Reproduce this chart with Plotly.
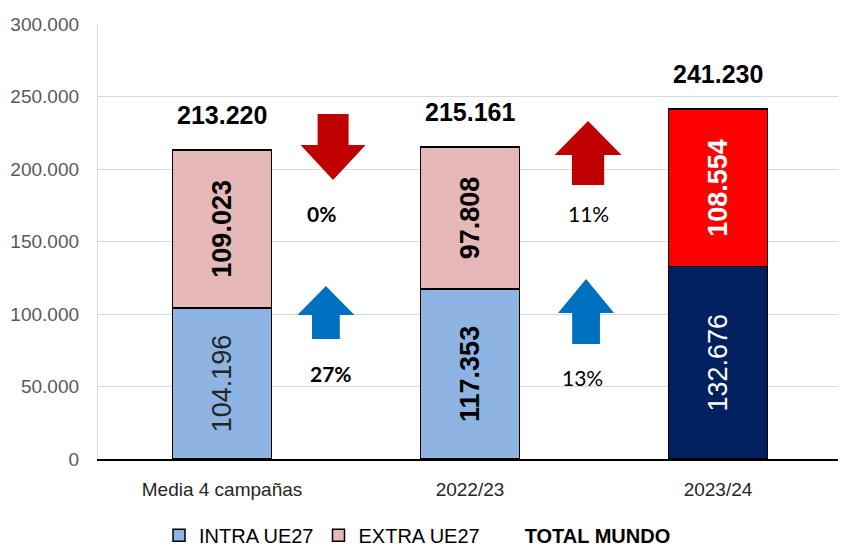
import plotly.graph_objects as go

categories = ["Media 4 campañas", "2022/23", "2023/24"]
intra_ue27 = [104196, 117353, 132676]
extra_ue27 = [109023, 97808, 108554]
totals = [213220, 215161, 241230]
y_ticks = [0, 50000, 100000, 150000, 200000, 250000, 300000]

intra_colors = ["#8EB4E3", "#8EB4E3", "#002060"]
extra_colors = ["#E6B9B8", "#E6B9B8", "#FF0000"]
intra_font = ["#262626", "#000000", "#FFFFFF"]
extra_font = ["#000000", "#000000", "#FFFFFF"]
intra_bold = [False, True, False]
extra_bold = [True, True, True]

SANS = "Liberation Sans, Arial"


def fmt(v):
    return f"{v:,}".replace(",", ".")


def lab(v, b):
    s = fmt(v)
    return f"<b>{s}</b>" if b else s


xs = list(range(len(categories)))

fig = go.Figure()
fig.add_trace(go.Bar(
    x=xs, y=intra_ue27, name="INTRA UE27", width=0.4,
    marker=dict(color=intra_colors, line=dict(color="#000000", width=1.5)),
    text=[lab(v, b) for v, b in zip(intra_ue27, intra_bold)],
    textposition="inside", textangle=-90, insidetextanchor="middle",
    textfont=dict(family=SANS, size=27, color=intra_font),
    hoverinfo="skip",
))
fig.add_trace(go.Bar(
    x=xs, y=extra_ue27, name="EXTRA UE27", width=0.4,
    marker=dict(color=extra_colors, line=dict(color="#000000", width=1.5)),
    text=[lab(v, b) for v, b in zip(extra_ue27, extra_bold)],
    textposition="inside", textangle=-90, insidetextanchor="middle",
    textfont=dict(family=SANS, size=27, color=extra_font),
    hoverinfo="skip",
))
fig.add_trace(go.Scatter(
    x=[None], y=[None], mode="lines", line=dict(width=0, color="rgba(0,0,0,0)"),
    name="<b>TOTAL MUNDO</b>",
))

# total labels
for x, t in zip(xs, totals):
    fig.add_annotation(x=x, y=t, text=f"<b>{fmt(t)}</b>", showarrow=False,
                       yshift=35, yanchor="middle",
                       font=dict(family=SANS, size=25, color="#000000"))

# change arrows (decorations) with labels computed from the data
changes = [
    dict(x=0.448, now=extra_ue27[2], base=extra_ue27[0], color="#C00000",
         top=237931, head=216552, tip=192414, hw=0.131, sw=0.0625,
         lx=0.40, ly=169655, bold=True),
    dict(x=0.419, now=intra_ue27[2], base=intra_ue27[0], color="#0070C0",
         top=82759, head=99310, tip=119310, hw=0.115, sw=0.056,
         lx=0.44, ly=59310, bold=True),
    dict(x=1.476, now=extra_ue27[2], base=extra_ue27[1], color="#C00000",
         top=188966, head=209655, tip=233103, hw=0.135, sw=0.065,
         lx=1.476, ly=169655, bold=False),
    dict(x=1.468, now=intra_ue27[2], base=intra_ue27[1], color="#0070C0",
         top=79310, head=100690, tip=124138, hw=0.113, sw=0.056,
         lx=1.452, ly=56552, bold=False),
]
for c in changes:
    x = c["x"]
    path = (f"M {x - c['sw']},{c['top']} L {x + c['sw']},{c['top']} "
            f"L {x + c['sw']},{c['head']} L {x + c['hw']},{c['head']} "
            f"L {x},{c['tip']} L {x - c['hw']},{c['head']} "
            f"L {x - c['sw']},{c['head']} Z")
    fig.add_shape(type="path", path=path, xref="x", yref="y",
                  fillcolor=c["color"], line=dict(width=0), layer="above")
    pct = int(round((c["now"] / c["base"] - 1) * 100))
    txt = f"{abs(pct)}%"
    if c["bold"]:
        txt = f"<b>{txt}</b>"
    fig.add_annotation(x=c["lx"], y=c["ly"], text=txt, showarrow=False,
                       font=dict(family="Lato, Open Sans", size=21,
                                 color="#000000"))

# page body adds an 8px offset; margins compensate for it
fig.update_layout(
    width=846, height=548,
    barmode="stack",
    plot_bgcolor="#FFFFFF", paper_bgcolor="#FFFFFF",
    margin=dict(l=90, r=12, t=16, b=97, autoexpand=False),
    separators=",.",
    showlegend=True,
    legend=dict(orientation="h", x=0.082, xanchor="left", y=-0.175,
                yanchor="middle", font=dict(family=SANS, size=20, color="#000000"),
                bgcolor="rgba(0,0,0,0)", itemwidth=30, traceorder="normal"),
    xaxis=dict(range=[-0.5, 2.5], tickvals=xs, ticktext=categories,
               showgrid=False, zeroline=False, showline=True,
               linecolor="#000000", linewidth=1.5, ticks="",
               ticklabelstandoff=12,
               tickfont=dict(family=SANS, size=19, color="#262626")),
    yaxis=dict(range=[0, 300000], tickvals=y_ticks,
               ticktext=[fmt(v) for v in y_ticks],
               showgrid=True, gridcolor="#D9D9D9", gridwidth=1.3,
               zeroline=False, showline=True, linecolor="#D9D9D9",
               linewidth=1.3, mirror=True, ticks="",
               ticklabelstandoff=14,
               tickfont=dict(family=SANS, size=19, color="#595959")),
)

fig.write_html("out.html")
